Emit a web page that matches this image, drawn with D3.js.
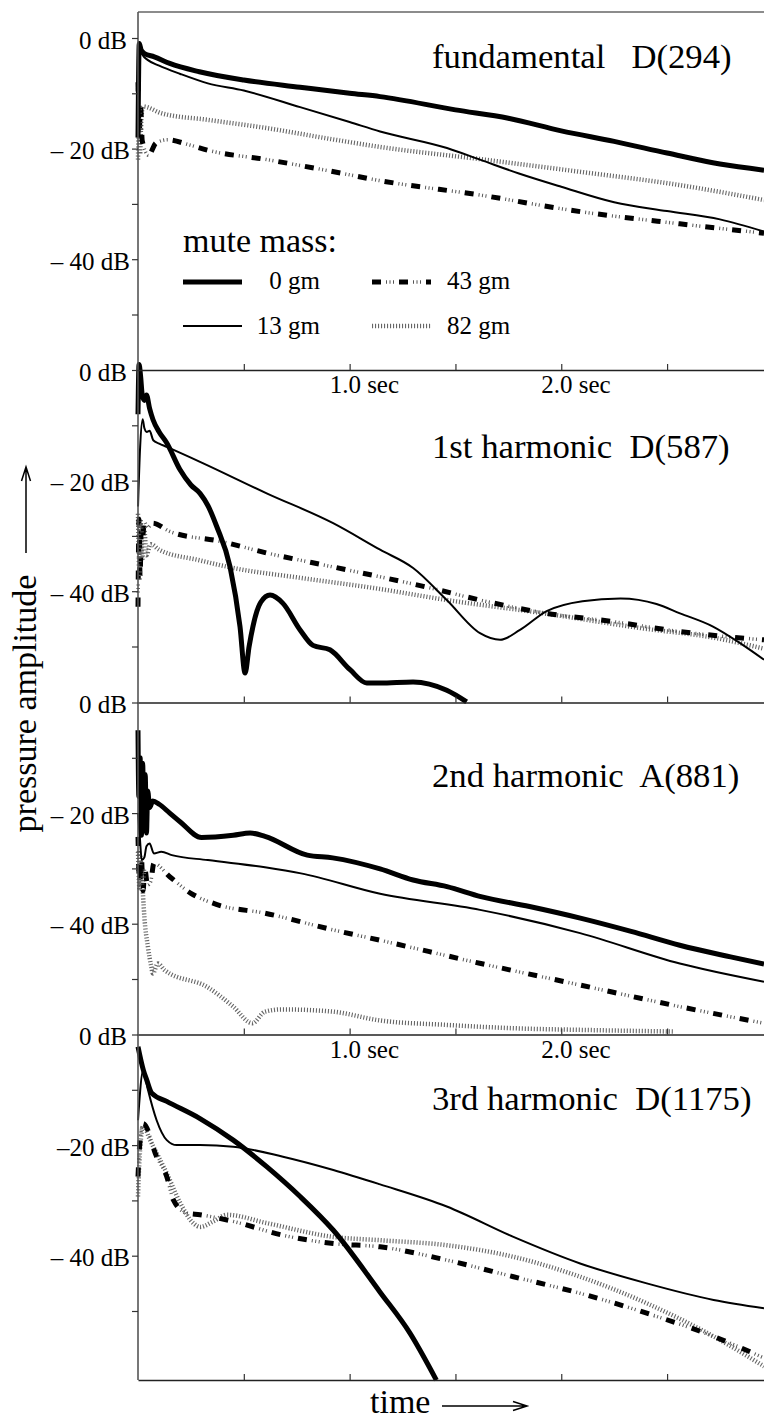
<!DOCTYPE html>
<html><head><meta charset="utf-8">
<script src="https://cdn.jsdelivr.net/npm/d3@7"></script>
<style>
body{margin:0;background:#fff;}
svg text{font-family:"Liberation Serif","LiberationSerif","Tinos","Times New Roman","Times","Nimbus Roman","DejaVu Serif",serif;fill:#000;}
</style></head><body>
<svg id="c" width="764" height="1420"></svg>
<script>
// ---------- data ----------
const panelTitles = ["fundamental   D(294)", "1st harmonic  D(587)", "2nd harmonic  A(881)", "3rd harmonic  D(1175)"];
const masses = ["0 gm", "13 gm", "43 gm", "82 gm"];
const xTicks = [0.5, 1.0, 1.5, 2.0, 2.5];
const xLabelTicks = [1.0, 2.0];
const xLabelText = ["1.0 sec", "2.0 sec"];
const yTicks = [0, -10, -20, -30, -40, -50];
const yLabelTicks = [0, -20, -40];
const yLabelTextStd = ["0 dB", "– 20 dB", "– 40 dB"];
const yLabelTextLast = ["0 dB", "–20 dB", "– 40 dB"];

// fundamental D(294): [time s, level dB]
const fund0 = [[0,-18],[0.006,-1],[0.015,-2.2],[0.03,-2.8],[0.077,-3.4],[0.15,-4.6],[0.29,-6.1],[0.5,-7.6],[0.766,-8.9],[1.0,-10.0],[1.144,-10.6],[1.5,-13],[1.75,-14.5],[2.0,-16.8],[2.25,-18.7],[2.5,-20.8],[2.75,-22.8],[2.958,-23.9]];
const fund13 = [[0,-8],[0.008,-2],[0.02,-3],[0.047,-4],[0.1,-5],[0.2,-6.5],[0.33,-8.2],[0.5,-9.5],[0.766,-12.5],[1.0,-15.2],[1.144,-16.9],[1.46,-19.9],[1.616,-22],[1.8,-24.5],[2.0,-26.9],[2.25,-29.7],[2.5,-31.3],[2.75,-32.8],[2.958,-35]];
const fund43 = [[0,-8],[0.006,-17],[0.012,-12],[0.02,-18.6],[0.05,-21.2],[0.085,-19],[0.14,-18.4],[0.24,-19.3],[0.33,-20.3],[0.61,-22],[0.9,-24],[1.144,-25.8],[1.616,-28.4],[2.09,-31.4],[2.56,-33.6],[2.958,-35.3]];
const fund82 = [[0,-22],[0.005,-14],[0.01,-21],[0.015,-15],[0.025,-12.4],[0.11,-13.6],[0.33,-14.8],[0.61,-16.3],[0.9,-18.2],[1.144,-19.7],[1.616,-21.9],[2.09,-24.2],[2.56,-26.6],[2.958,-29.3]];

// 1st harmonic D(587)
const h1_0 = [[0,-8],[0.005,1],[0.012,-1],[0.02,-4.5],[0.03,-5.5],[0.04,-4.5],[0.055,-7],[0.071,-9],[0.1,-11.2],[0.136,-13.2],[0.198,-18],[0.25,-20.8],[0.293,-22.3],[0.33,-24.5],[0.372,-28.3],[0.435,-35.6],[0.482,-46.4],[0.506,-54.8],[0.525,-50],[0.543,-46.4],[0.58,-42],[0.624,-40.7],[0.685,-42.2],[0.766,-47],[0.827,-49.8],[0.907,-50.6],[1.002,-54.2],[1.081,-56.6],[1.144,-56.6],[1.3,-56.4],[1.459,-57.9],[1.553,-60]];
const h1_13 = [[0,-24.7],[0.01,-14],[0.022,-8.9],[0.03,-10.5],[0.041,-11.2],[0.055,-11],[0.072,-12.7],[0.1,-13.3],[0.136,-13.9],[0.293,-16.6],[0.608,-22.3],[0.922,-27.7],[1.144,-32.5],[1.3,-35.8],[1.459,-41.6],[1.616,-47.6],[1.711,-48.8],[1.805,-47],[1.931,-43.6],[2.1,-41.8],[2.28,-41.3],[2.45,-42.3],[2.561,-44],[2.717,-46.4],[2.845,-49.4],[2.958,-52.4]];
const h1_43 = [[0,-42.8],[0.005,-27],[0.01,-38],[0.015,-28],[0.022,-30],[0.03,-27.5],[0.045,-28.5],[0.07,-27.7],[0.15,-29.2],[0.39,-31.0],[0.61,-33.1],[0.92,-35.6],[1.144,-37.4],[1.38,-39.4],[1.616,-41.6],[1.93,-44],[2.245,-45.5],[2.56,-47.3],[2.958,-48.8]];
const h1_82 = [[0,-26],[0.006,-34],[0.012,-27],[0.02,-34.5],[0.03,-29],[0.04,-33.5],[0.06,-31.5],[0.1,-32.5],[0.29,-34.4],[0.45,-35.8],[0.77,-37.6],[1.144,-39.6],[1.46,-41.6],[1.9,-43.9],[2.4,-46.8],[2.72,-48.4],[2.958,-50.4]];

// 2nd harmonic A(881)
const h2_0 = [[0,-5],[0.004,-17],[0.01,-10],[0.016,-24],[0.022,-11],[0.028,-22],[0.034,-13],[0.04,-23.6],[0.046,-16],[0.055,-19],[0.07,-17.8],[0.1,-18.4],[0.15,-20],[0.2,-21.6],[0.3,-24.4],[0.45,-24],[0.53,-23.6],[0.6,-24.2],[0.8,-27.6],[0.92,-28.1],[1.144,-30.1],[1.3,-32.1],[1.46,-33.3],[1.62,-35.1],[1.85,-36.9],[2.09,-39],[2.33,-41.4],[2.56,-43.9],[2.8,-46],[2.958,-47.3]];
const h2_13 = [[0,-20],[0.008,-24],[0.018,-28.5],[0.03,-28],[0.04,-26],[0.055,-25.5],[0.075,-27.3],[0.11,-27],[0.16,-27.6],[0.33,-28.5],[0.6,-29.8],[0.77,-30.9],[1.144,-34.6],[1.616,-37.5],[2.089,-41.7],[2.56,-47.2],[2.958,-50.5]];
const h2_43 = [[0,-24.3],[0.008,-33],[0.016,-28],[0.024,-34],[0.032,-30],[0.045,-33],[0.06,-32.4],[0.075,-29.1],[0.15,-31.5],[0.25,-34.5],[0.37,-36.5],[0.6,-38.1],[0.92,-41.1],[1.144,-43],[1.62,-47.2],[2.09,-51.1],[2.56,-55],[2.958,-58]];
const h2_82 = [[0,-27],[0.008,-34],[0.016,-29],[0.024,-35],[0.03,-38.7],[0.047,-44.2],[0.063,-47.8],[0.07,-49],[0.094,-47.2],[0.126,-48.4],[0.33,-51.5],[0.45,-55],[0.54,-58],[0.6,-55.9],[0.68,-55.5],[0.92,-55.9],[1.144,-57.5],[1.46,-58.3],[1.77,-58.9],[2.09,-59.2],[2.53,-59.5]];

// 3rd harmonic D(1175)
const h3_0 = [[0,-2.2],[0.025,-6.4],[0.041,-8.2],[0.065,-10.6],[0.136,-12.1],[0.293,-15.2],[0.45,-19.1],[0.608,-23.9],[0.766,-29.3],[0.923,-35.4],[1.144,-46.6],[1.285,-54],[1.41,-62.5]];
const h3_13 = [[0,-15.5],[0.025,-6.4],[0.047,-10],[0.088,-15.5],[0.136,-19.1],[0.183,-20],[0.293,-20],[0.45,-20.3],[0.685,-22.1],[0.923,-24.5],[1.144,-27.1],[1.459,-31.1],[1.774,-36.6],[2.089,-41.4],[2.404,-45],[2.72,-48],[2.958,-49.5]];
const h3_43 = [[0,-25.7],[0.008,-20],[0.025,-16.1],[0.088,-22.1],[0.136,-25.7],[0.167,-29.9],[0.23,-32.3],[0.293,-32.6],[0.45,-33.8],[0.685,-36.3],[0.923,-37.8],[1.144,-38.4],[1.459,-40.8],[1.774,-43.8],[2.089,-46.8],[2.404,-50.4],[2.72,-54.6],[2.958,-58.5]];
const h3_82 = [[0,-29.3],[0.008,-22],[0.025,-16.5],[0.057,-19.1],[0.136,-25.1],[0.2,-30.5],[0.261,-34.1],[0.293,-34.8],[0.356,-33.8],[0.42,-32.6],[0.608,-34.1],[0.923,-36.6],[1.144,-37.2],[1.459,-38.1],[1.774,-40.2],[2.089,-43.8],[2.404,-48.6],[2.72,-54.6],[2.958,-60]];

const panelSeries = [[fund0, fund13, fund43, fund82], [h1_0, h1_13, h1_43, h1_82], [h2_0, h2_13, h2_43, h2_82], [h3_0, h3_13, h3_43, h3_82]];

// ---------- layout ----------
const FONT = "'Liberation Serif','LiberationSerif','Tinos','Times New Roman','Times','Nimbus Roman','DejaVu Serif',serif";
const svg = d3.select("#c");
const left = 138, right = 764;
const x = d3.scaleLinear().domain([0, 2.958]).range([left, right]);
const zeroY = [38, 370, 702.5, 1034.5];
const bottomY = [370, 702.5, 1034.5, 1380];
const pxPerDb = 5.53;
const FONT_TICK = 25, FONT_BIG = 34, FONT_TITLE = 34.7;

function drawSeries(g, data, yS, kind) {
  const line = d3.line().x(d => x(d[0])).y(d => yS(d[1])).curve(d3.curveMonotoneX);
  drawStyled(g, line(data), kind);
}
function drawStyled(g, dstr, kind) {
  if (kind === 0) {
    g.append("path").attr("d", dstr).attr("fill", "none").attr("stroke", "#000").attr("stroke-width", 5).attr("stroke-linejoin", "round");
  } else if (kind === 1) {
    g.append("path").attr("d", dstr).attr("fill", "none").attr("stroke", "#000").attr("stroke-width", 2).attr("stroke-linejoin", "round");
  } else if (kind === 2) {
    g.append("path").attr("d", dstr).attr("fill", "none").attr("stroke", "#000").attr("stroke-width", 5).attr("stroke-dasharray", "9 18");
    g.append("path").attr("d", dstr).attr("fill", "none").attr("stroke", "#555").attr("stroke-width", 3.5).attr("stroke-dasharray", "0 14 1 2.5 1 2.5 1 5");
  } else {
    g.append("path").attr("d", dstr).attr("fill", "none").attr("stroke", "#666").attr("stroke-width", 4.5).attr("stroke-dasharray", "1.1 1.9");
  }
}

const yScales = zeroY.map(z => d3.scaleLinear().domain([0, -60]).range([z, z + 60 * pxPerDb]));

panelSeries.forEach((series, p) => {
  const g = svg.append("g");
  [3, 2, 1, 0].forEach(k => drawSeries(g, series[k], yScales[p], k));
});

// top border & left axis line
svg.append("line").attr("x1", left).attr("x2", right).attr("y1", 12).attr("y2", 12).attr("stroke", "#666").attr("stroke-width", 1.5);
svg.append("line").attr("x1", left).attr("x2", left).attr("y1", 12).attr("y2", 1380).attr("stroke", "#555").attr("stroke-width", 1.6);

// horizontal axes (ticks upward)
bottomY.forEach(by => {
  const ax = svg.append("g").attr("transform", `translate(0,${by})`)
    .call(d3.axisTop(x).tickValues(xTicks).tickSize(6).tickSizeOuter(0).tickFormat(""));
  ax.select(".domain").attr("stroke", "#222").attr("stroke-width", 1.6);
  ax.selectAll(".tick line").attr("stroke", "#333").attr("stroke-width", 1.2);
});

[370, 1034.5].forEach(by => {
  xLabelTicks.forEach((v, i) => {
    svg.append("text").attr("x", x(v) - 20).attr("y", by + 23).attr("font-size", FONT_TICK).attr("font-family", FONT).text(xLabelText[i]);
  });
});

yScales.forEach((yS, p) => {
  const labels = p === 3 ? yLabelTextLast : yLabelTextStd;
  const ax = svg.append("g").attr("transform", `translate(${left},0)`)
    .call(d3.axisLeft(yS).tickValues(yTicks).tickSize(6).tickPadding(2)
      .tickFormat(v => { const i = yLabelTicks.indexOf(v); return i >= 0 ? labels[i] : ""; }));
  ax.attr("font-family", FONT);
  ax.select(".domain").remove();
  ax.selectAll(".tick line").attr("stroke", "#333").attr("stroke-width", 1.2);
  ax.selectAll(".tick text").attr("font-size", FONT_TICK).attr("dy", "0.4em")
    .attr("font-family", FONT).attr("fill", "#000")
    .attr("dx", d => d === 0 ? -3 : 0);
});

const titleBase = [68, 458, 787, 1110];
panelTitles.forEach((t, i) => {
  svg.append("text").attr("x", 432).attr("y", titleBase[i]).attr("font-size", FONT_TITLE).attr("font-family", FONT)
    .style("white-space", "pre").attr("xml:space", "preserve").text(t);
});

svg.append("text").attr("x", 183).attr("y", 252).attr("font-size", FONT_BIG).attr("font-family", FONT).text("mute mass:");
const legPos = [
  {x1: 183, x2: 242, y: 282, tx: 320, anchor: "end", ty: 288.5},
  {x1: 183, x2: 242, y: 326, tx: 320, anchor: "end", ty: 333.5},
  {x1: 372, x2: 431, y: 282, tx: 447, anchor: "start", ty: 288.5},
  {x1: 372, x2: 431, y: 326, tx: 447, anchor: "start", ty: 333.5}
];
const lg = svg.append("g");
masses.forEach((m, k) => {
  const p = legPos[k];
  drawStyled(lg, `M${p.x1},${p.y}L${p.x2},${p.y}`, k);
  lg.append("text").attr("x", p.tx).attr("y", p.ty).attr("text-anchor", p.anchor).attr("font-size", FONT_TICK).attr("font-family", FONT).text(m);
});

svg.append("text").attr("transform", "translate(36,703.5) rotate(-90)").attr("text-anchor", "middle")
  .attr("font-size", FONT_BIG).attr("font-family", FONT).text("pressure amplitude");
svg.append("path").attr("d", "M26,553L26,467M21.5,481L26,467L30.5,481").attr("fill", "none").attr("stroke", "#000").attr("stroke-width", 1.5);
svg.append("text").attr("x", 370).attr("y", 1413).attr("font-size", FONT_BIG).attr("font-family", FONT).text("time");
svg.append("path").attr("d", "M442,1406L527,1406M513,1401.5L527,1406L513,1410.5").attr("fill", "none").attr("stroke", "#000").attr("stroke-width", 1.5);
</script>
</body></html>
